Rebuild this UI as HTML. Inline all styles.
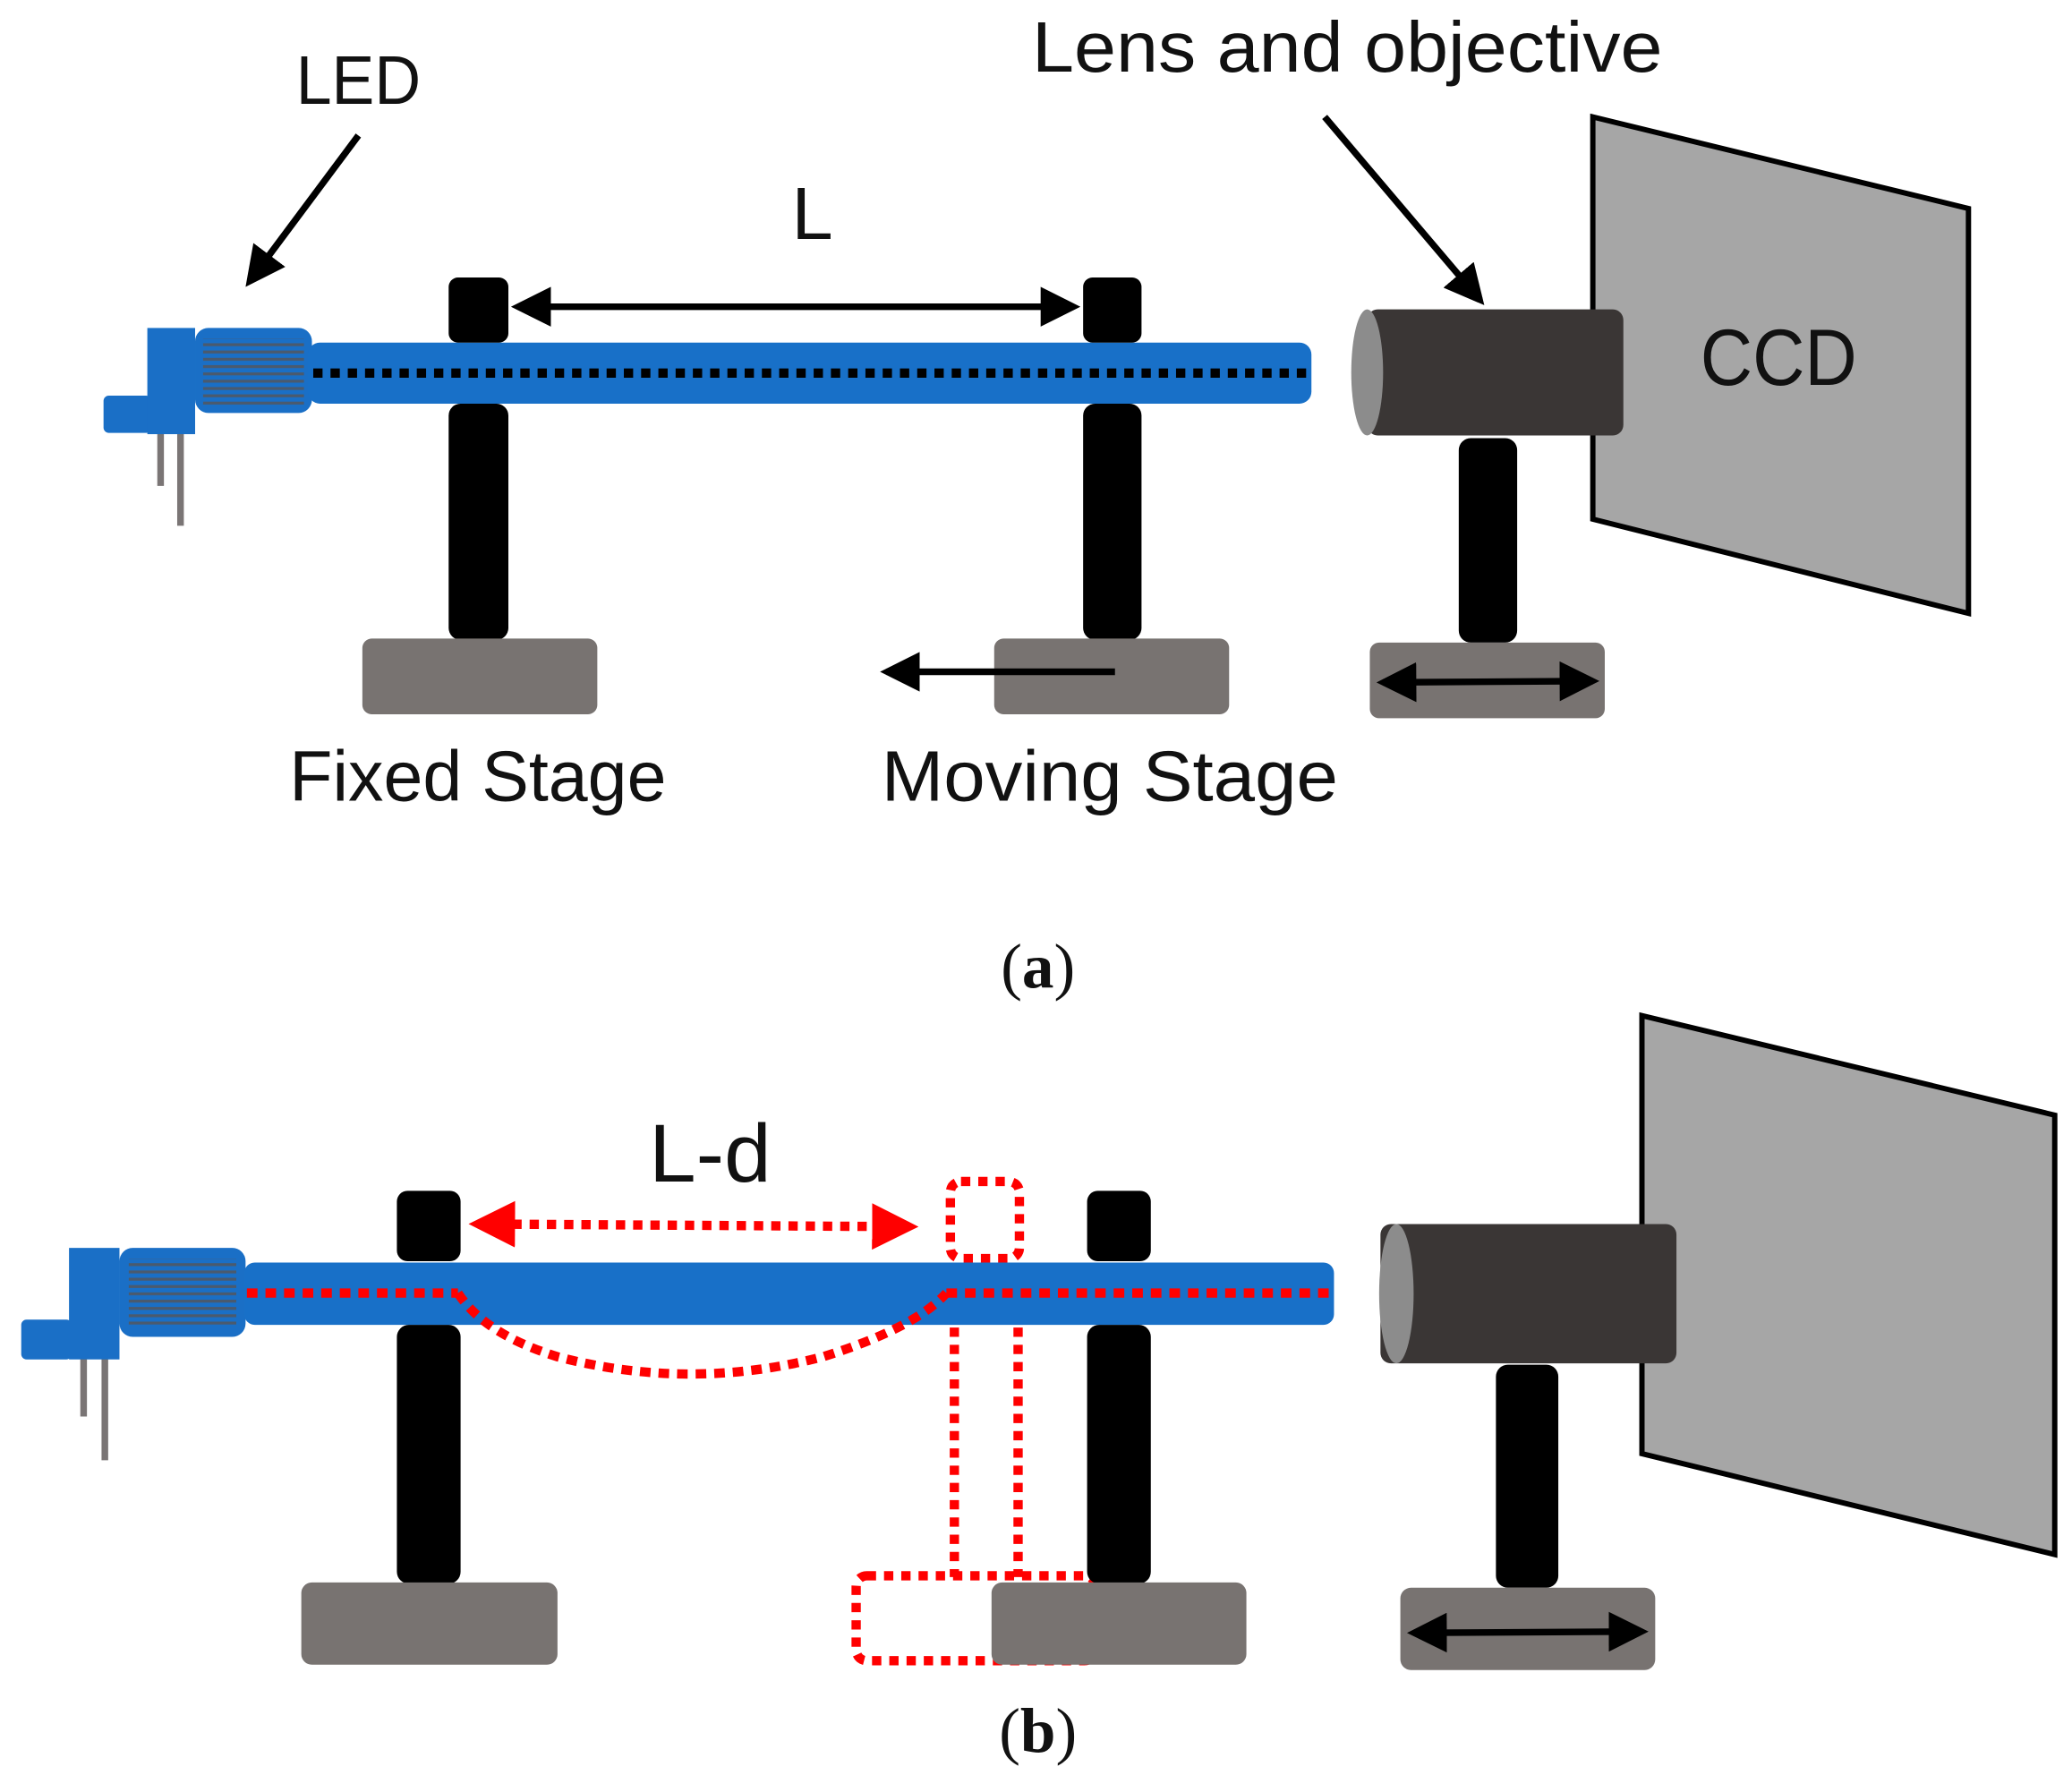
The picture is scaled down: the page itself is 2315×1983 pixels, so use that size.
<!DOCTYPE html>
<html><head><meta charset="utf-8"><style>
html,body{margin:0;padding:0;background:#fff;}
svg{display:block;}
text{font-family:"Liberation Sans",sans-serif;fill:#111;}
</style></head><body>
<svg width="2315" height="1983" viewBox="0 0 1561 1337" xmlns="http://www.w3.org/2000/svg">
<defs>
<marker id="ah" markerWidth="6" markerHeight="6" refX="5" refY="3" orient="auto-start-reverse" markerUnits="strokeWidth"><path d="M0,0 L6,3 L0,6 z" fill="#000"/></marker>
<marker id="rh" markerWidth="5" markerHeight="5" refX="4" refY="2.5" orient="auto-start-reverse" markerUnits="strokeWidth"><path d="M0,0 L5,2.5 L0,5 z" fill="#f00"/></marker>
<pattern id="fins" width="10" height="5.5" patternUnits="userSpaceOnUse"><rect width="10" height="2.2" fill="#4a5a6e"/></pattern>
</defs>
<rect width="1561" height="1337" fill="#fff"/>

<!-- ===== Panel (a) ===== -->
<text x="270" y="78" font-size="52" text-anchor="middle" textLength="94" lengthAdjust="spacingAndGlyphs">LED</text>
<line x1="270" y1="102" x2="188" y2="212" stroke="#000" stroke-width="5" marker-end="url(#ah)"/>
<text x="1015" y="54" font-size="54" text-anchor="middle" textLength="475" lengthAdjust="spacingAndGlyphs">Lens and objective</text>
<line x1="998" y1="88" x2="1115" y2="226" stroke="#000" stroke-width="5" marker-end="url(#ah)"/>
<text x="612" y="180" font-size="56" text-anchor="middle">L</text>

<!-- CCD -->
<polygon points="1200,88 1483,157 1483,462 1200,391" fill="#a6a6a6" stroke="#000" stroke-width="4"/>
<text x="1340" y="290" font-size="60" text-anchor="middle" textLength="118" lengthAdjust="spacingAndGlyphs">CCD</text>

<!-- LED a -->
<line x1="121" y1="326" x2="121" y2="366" stroke="#7a7575" stroke-width="5"/>
<line x1="136" y1="326" x2="136" y2="396" stroke="#7a7575" stroke-width="5"/>
<rect x="78" y="298" width="36" height="28" rx="4" fill="#1a6fc6"/>
<rect x="111" y="247" width="36" height="80" fill="#1a6fc6"/>
<rect x="147" y="247" width="88" height="64" rx="10" fill="#1a6fc6"/>
<rect x="153" y="255" width="76" height="50" fill="url(#fins)"/>
<rect x="232" y="258" width="756" height="46" rx="9" fill="#1870c8"/>
<line x1="236" y1="281" x2="985" y2="281" stroke="#000" stroke-width="7" stroke-dasharray="7 6"/>

<!-- posts a -->
<rect x="338" y="209" width="45" height="49" rx="7" fill="#000"/>
<rect x="338" y="304" width="45" height="178" rx="9" fill="#000"/>
<rect x="816" y="209" width="44" height="49" rx="7" fill="#000"/>
<rect x="816" y="304" width="44" height="178" rx="9" fill="#000"/>
<rect x="273" y="481" width="177" height="57" rx="7" fill="#787371"/>
<rect x="749" y="481" width="177" height="57" rx="7" fill="#787371"/>
<line x1="390" y1="231" x2="809" y2="231" stroke="#000" stroke-width="5" marker-start="url(#ah)" marker-end="url(#ah)"/>
<line x1="840" y1="506" x2="668" y2="506" stroke="#000" stroke-width="5" marker-end="url(#ah)"/>

<!-- camera a -->
<rect x="1030" y="233" width="193" height="95" rx="8" fill="#3a3635"/>
<ellipse cx="1030" cy="280.5" rx="12" ry="47.5" fill="#8c8c8c"/>
<rect x="1099" y="330" width="44" height="154" rx="9" fill="#000"/>
<rect x="1032" y="484" width="177" height="57" rx="7" fill="#787371"/>
<line x1="1042" y1="514" x2="1200" y2="513" stroke="#000" stroke-width="5" marker-start="url(#ah)" marker-end="url(#ah)"/>

<text x="360" y="603" font-size="54" text-anchor="middle" textLength="284" lengthAdjust="spacingAndGlyphs">Fixed Stage</text>
<text x="836" y="603" font-size="54" text-anchor="middle" textLength="344" lengthAdjust="spacingAndGlyphs">Moving Stage</text>
<text x="782" y="744" font-size="48" text-anchor="middle" style="font-family:'Liberation Serif',serif">(<tspan font-weight="bold">a</tspan>)</text>

<!-- ===== Panel (b) ===== -->
<polygon points="1237,765 1548,840 1548,1171 1237,1095" fill="#a6a6a6" stroke="#000" stroke-width="4"/>
<text x="535" y="890" font-size="62" text-anchor="middle" textLength="92" lengthAdjust="spacingAndGlyphs">L-d</text>

<line x1="63" y1="1023" x2="63" y2="1067" stroke="#7a7575" stroke-width="5"/>
<line x1="79" y1="1023" x2="79" y2="1100" stroke="#7a7575" stroke-width="5"/>
<rect x="16" y="994" width="38" height="30" rx="4" fill="#1a6fc6"/>
<rect x="52" y="940" width="38" height="84" fill="#1a6fc6"/>
<rect x="90" y="940" width="95" height="67" rx="10" fill="#1a6fc6"/>
<rect x="97" y="948" width="81" height="52" fill="url(#fins)"/>

<!-- ghost post dotted (behind) -->
<rect x="716" y="890" width="52" height="58" rx="8" fill="none" stroke="#f00" stroke-width="7" stroke-dasharray="7 6"/>
<line x1="719" y1="1000" x2="719" y2="1188" stroke="#f00" stroke-width="7" stroke-dasharray="7 6"/>
<line x1="767" y1="1000" x2="767" y2="1188" stroke="#f00" stroke-width="7" stroke-dasharray="7 6"/>
<rect x="645" y="1187" width="180" height="64" rx="8" fill="none" stroke="#f00" stroke-width="7" stroke-dasharray="7 6"/>

<rect x="184" y="951" width="821" height="47" rx="8" fill="#1870c8"/>
<line x1="186" y1="974" x2="345" y2="974" stroke="#f00" stroke-width="7" stroke-dasharray="8 6"/>
<line x1="713" y1="974" x2="1003" y2="974" stroke="#f00" stroke-width="7" stroke-dasharray="8 6"/>
<path d="M345,974 Q365,1005 420,1022 Q520,1048 620,1022 Q690,1000 713,974" fill="none" stroke="#f00" stroke-width="7" stroke-dasharray="8 6"/>
<line x1="360" y1="922" x2="685" y2="924" stroke="#f00" stroke-width="7" stroke-dasharray="7 6" marker-start="url(#rh)" marker-end="url(#rh)"/>

<rect x="299" y="897" width="48" height="53" rx="8" fill="#000"/>
<rect x="299" y="998" width="48" height="195" rx="9" fill="#000"/>
<rect x="819" y="897" width="48" height="53" rx="8" fill="#000"/>
<rect x="819" y="998" width="48" height="195" rx="9" fill="#000"/>
<rect x="227" y="1192" width="193" height="62" rx="8" fill="#787371"/>
<rect x="747" y="1192" width="192" height="62" rx="8" fill="#787371"/>

<rect x="1040" y="922" width="223" height="105" rx="8" fill="#3a3635"/>
<ellipse cx="1052" cy="974.5" rx="13" ry="52.5" fill="#8c8c8c"/>
<rect x="1127" y="1028" width="47" height="168" rx="9" fill="#000"/>
<rect x="1055" y="1196" width="192" height="62" rx="8" fill="#787371"/>
<line x1="1065" y1="1230" x2="1237" y2="1229" stroke="#000" stroke-width="5" marker-start="url(#ah)" marker-end="url(#ah)"/>

<text x="782" y="1320" font-size="48" text-anchor="middle" style="font-family:'Liberation Serif',serif">(<tspan font-weight="bold">b</tspan>)</text>
</svg>
</body></html>
